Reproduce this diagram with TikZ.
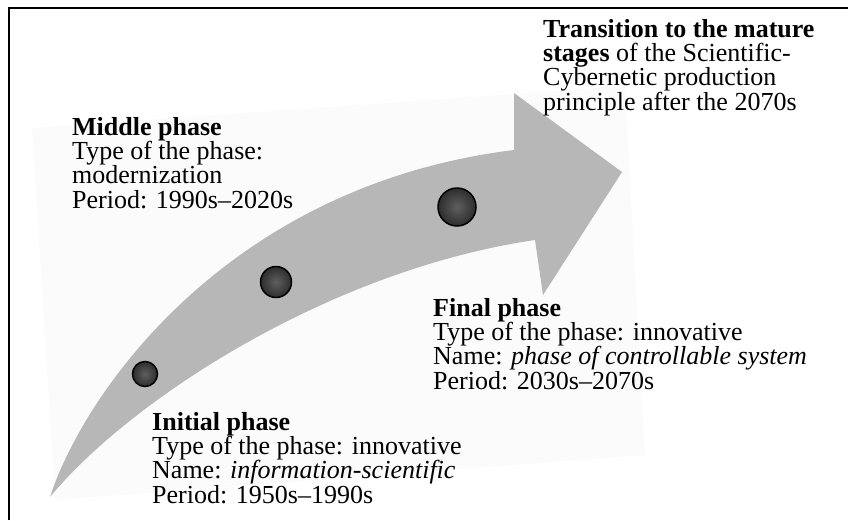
\documentclass[tikz,border=0pt]{standalone}
\usepackage{fontspec}
\setmainfont{Liberation Serif}
\definecolor{arrowgray}{RGB}{183,183,183}
\definecolor{faint}{RGB}{251,251,251}
\definecolor{dotin}{RGB}{95,95,95}
\definecolor{dotout}{RGB}{45,45,45}
\begin{document}
\begin{tikzpicture}[x=1pt,y=-1pt,
  txt/.style={anchor=base west, inner sep=0pt, align=left, font=\fontsize{26}{24.3}\selectfont},
  dot/.style={circle, draw=black, line width=1.5pt, inner sep=0pt, shading=radial, inner color=dotin, outer color=dotout}]
\useasboundingbox (0,0) rectangle (848,520);
% faint background sheet
\fill[faint] (32,128) -- (625,86) -- (645,455) -- (55,500) -- cycle;
% curved arrow
\fill[arrowgray] (50,497) .. controls (85,390) and (230,185) .. (514,150)
  -- (514,93) -- (622,172) -- (543,295) -- (535,240)
  .. controls (330,270) and (130,400) .. (50,497) -- cycle;
% frame
\draw[line width=2pt] (9,520) -- (9,8) -- (848,8);
% dots
\node[dot, minimum size=25pt] (c1) at (145,374) {};
\node[dot, minimum size=31pt] (c2) at (276,282) {};
\node[dot, minimum size=38pt] (c3) at (457,207) {};
% texts (anchored at the baseline of their last line)
\node[txt] (mid) at (72,208) {\textbf{Middle phase}\\Type of the phase:\\modernization\\Period: 1990s–2020s};
\node[txt] (trans) at (543,110) {\textbf{Transition to the mature}\\\textbf{stages} of the Scientific-\\Cybernetic production\\principle after the 2070s};
\node[txt] (fin) at (433,389) {\textbf{Final phase}\\Type of the phase: innovative\\Name: \textit{phase of controllable system}\\Period: 2030s–2070s};
\node[txt] (init) at (152,503) {\textbf{Initial phase}\\Type of the phase: innovative\\Name: \textit{information-scientific}\\Period: 1950s–1990s};
\end{tikzpicture}
\end{document}
